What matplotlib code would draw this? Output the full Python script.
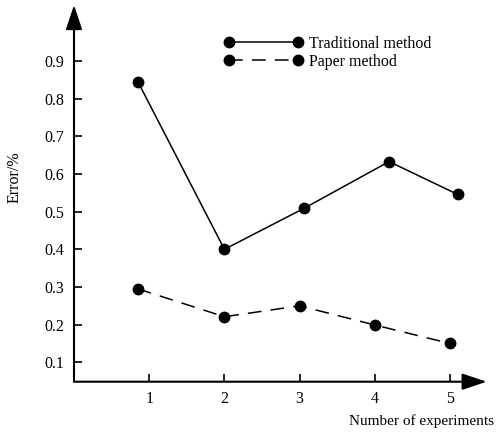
import matplotlib
matplotlib.use("Agg")
import matplotlib.pyplot as plt

# Data
trad_x = [0.85, 2.0, 3.06, 4.19, 5.10]
trad_y = [0.845, 0.400, 0.509, 0.633, 0.546]
paper_x = [0.85, 2.0, 3.0, 4.0, 5.0]
paper_y = [0.295, 0.221, 0.250, 0.199, 0.150]
x_ticks = [1, 2, 3, 4, 5]
y_ticks = [0.1, 0.2, 0.3, 0.4, 0.5, 0.6, 0.7, 0.8, 0.9]
labels = ["Traditional method", "Paper method"]

plt.rcParams['font.family'] = ['Liberation Serif', 'DejaVu Serif']
plt.rcParams['font.size'] = 11.5

W, H = 496, 436
fig = plt.figure(figsize=(W / 100, H / 100), dpi=100)
left, bottom, right, top = 74, 381.7, 486.7, 5
ax = fig.add_axes([left / W, 1 - bottom / H, (right - left) / W, (bottom - top) / H])

ax.plot(trad_x, trad_y, color='black', lw=1.1, marker='o', markersize=7.5,
        label=labels[0])
ax.plot(paper_x, paper_y, color='black', lw=1.1, marker='o', markersize=7.5,
        linestyle=(0, (9, 6)), label=labels[1])

ax.set_xlim(0, 5.488)
ax.set_ylim(0.0485, 1.0488)
ax.set_xticks(x_ticks)
ax.set_yticks(y_ticks)
ax.set_xticklabels([str(v) for v in x_ticks])
ax.set_yticklabels([f"{v:.1f}" for v in y_ticks])
ax.tick_params(direction='in', length=6, width=1.2, pad=7, labelsize=11.5,
               colors='black')

for s in ['top', 'right', 'left', 'bottom']:
    ax.spines[s].set_visible(False)

arrow = dict(arrowstyle='-|>,head_length=1.5,head_width=0.5', mutation_scale=10,
             lw=1.5, color='black', shrinkA=0, shrinkB=0)
ax.annotate('', xy=(0, 1), xytext=(0, 0), xycoords='axes fraction',
            textcoords='axes fraction', arrowprops=arrow)
ax.annotate('', xy=(1, 0), xytext=(0, 0), xycoords='axes fraction',
            textcoords='axes fraction', arrowprops=arrow)

leg = ax.legend(loc='upper left', bbox_to_anchor=(224.3 / W, 1 - 35.5 / H),
                bbox_transform=fig.transFigure, frameon=False, numpoints=2,
                handlelength=4.9, handletextpad=0.4, labelspacing=0.15,
                borderpad=0, borderaxespad=0, fontsize=11.5)

fig.text(494 / W, 1 - 421 / H, "Number of experiments", ha='right', va='center',
         fontsize=11)
fig.text(15 / W, 1 - 177 / H, "Error/%", ha='center', va='center',
         rotation=90, fontsize=11.5)

fig.savefig("out.png", dpi=100)
